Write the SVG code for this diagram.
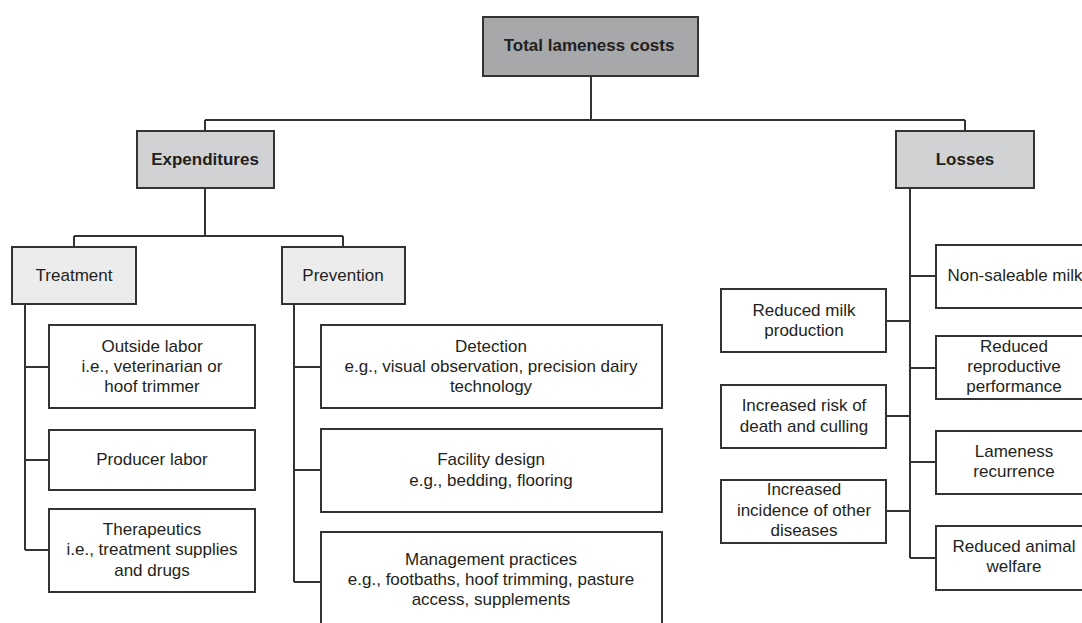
<svg xmlns="http://www.w3.org/2000/svg" width="1082" height="623" viewBox="0 0 1082 623">
<style>
text{font-family:"Liberation Sans",Arial,sans-serif;font-size:17px;fill:#231f20;text-anchor:middle}
.b{font-weight:bold}
.box{stroke:#333;stroke-width:2;fill:#fff}
.l1{fill:#a7a8aa}
.l2{fill:#d1d2d4}
.l3{fill:#ececec}
.c{stroke:#333;stroke-width:2;fill:none}
</style>
<rect width="1082" height="623" fill="#fff"/>
<g id="connectors">
<path class="c" d="M591 76V120M205 120H965M205 120V131M965 120V131"/>
<path class="c" d="M205 188V236M74 236H343M74 236V247M343 236V247"/>
<path class="c" d="M25 304V550M25 367H49M25 460H49M25 550H49"/>
<path class="c" d="M294 304V582M294 367H321M294 470H321M294 582H321"/>
<path class="c" d="M910 188V558M910 276H936M910 368H936M910 462H936M910 558H936M886 321H910M886 416H910M886 511H910"/>
</g>
<g id="total"><rect class="box l1" x="483" y="17" width="215" height="59"/><text class="b" x="589" y="51">Total lameness costs</text></g>
<g id="expenditures"><rect class="box l2" x="137" y="131" width="137" height="57"/><text class="b" x="205" y="165">Expenditures</text></g>
<g id="losses"><rect class="box l2" x="896" y="131" width="138" height="57"/><text class="b" x="965" y="165">Losses</text></g>
<g id="treatment"><rect class="box l3" x="12" y="247" width="124" height="57"/><text x="74" y="281">Treatment</text></g>
<g id="prevention"><rect class="box l3" x="282" y="247" width="123" height="57"/><text x="343" y="281">Prevention</text></g>
<g id="outside-labor"><rect class="box" x="49" y="325" width="206" height="83"/><text x="152" y="352">Outside labor</text><text x="152" y="372">i.e., veterinarian or</text><text x="152" y="392">hoof trimmer</text></g>
<g id="producer-labor"><rect class="box" x="49" y="430" width="206" height="60"/><text x="152" y="465">Producer labor</text></g>
<g id="therapeutics"><rect class="box" x="49" y="509" width="206" height="83"/><text x="152" y="535">Therapeutics</text><text x="152" y="555">i.e., treatment supplies</text><text x="152" y="576">and drugs</text></g>
<g id="detection"><rect class="box" x="321" y="325" width="341" height="83"/><text x="491" y="352">Detection</text><text x="491" y="372">e.g., visual observation, precision dairy</text><text x="491" y="392">technology</text></g>
<g id="facility"><rect class="box" x="321" y="429" width="341" height="83"/><text x="491" y="465">Facility design</text><text x="491" y="486">e.g., bedding, flooring</text></g>
<g id="management"><rect class="box" x="321" y="532" width="341" height="100"/><text x="491" y="565">Management practices</text><text x="491" y="585">e.g., footbaths, hoof trimming, pasture</text><text x="491" y="605">access, supplements</text></g>
<g id="reduced-milk"><rect class="box" x="721" y="289" width="165" height="63"/><text x="804" y="316">Reduced milk</text><text x="804" y="336">production</text></g>
<g id="death-culling"><rect class="box" x="721" y="385" width="165" height="63"/><text x="804" y="411">Increased risk of</text><text x="804" y="432">death and culling</text></g>
<g id="other-diseases"><rect class="box" x="721" y="480" width="165" height="63"/><text x="804" y="495">Increased</text><text x="804" y="516">incidence of other</text><text x="804" y="536">diseases</text></g>
<g id="non-saleable"><rect class="box" x="936" y="245" width="150" height="63"/><text x="1015" y="281">Non-saleable milk</text></g>
<g id="reproductive"><rect class="box" x="936" y="336" width="150" height="63"/><text x="1014" y="352">Reduced</text><text x="1014" y="372">reproductive</text><text x="1014" y="392">performance</text></g>
<g id="recurrence"><rect class="box" x="936" y="431" width="150" height="63"/><text x="1014" y="457">Lameness</text><text x="1014" y="477">recurrence</text></g>
<g id="welfare"><rect class="box" x="936" y="526" width="150" height="64"/><text x="1014" y="552">Reduced animal</text><text x="1014" y="572">welfare</text></g>
</svg>
